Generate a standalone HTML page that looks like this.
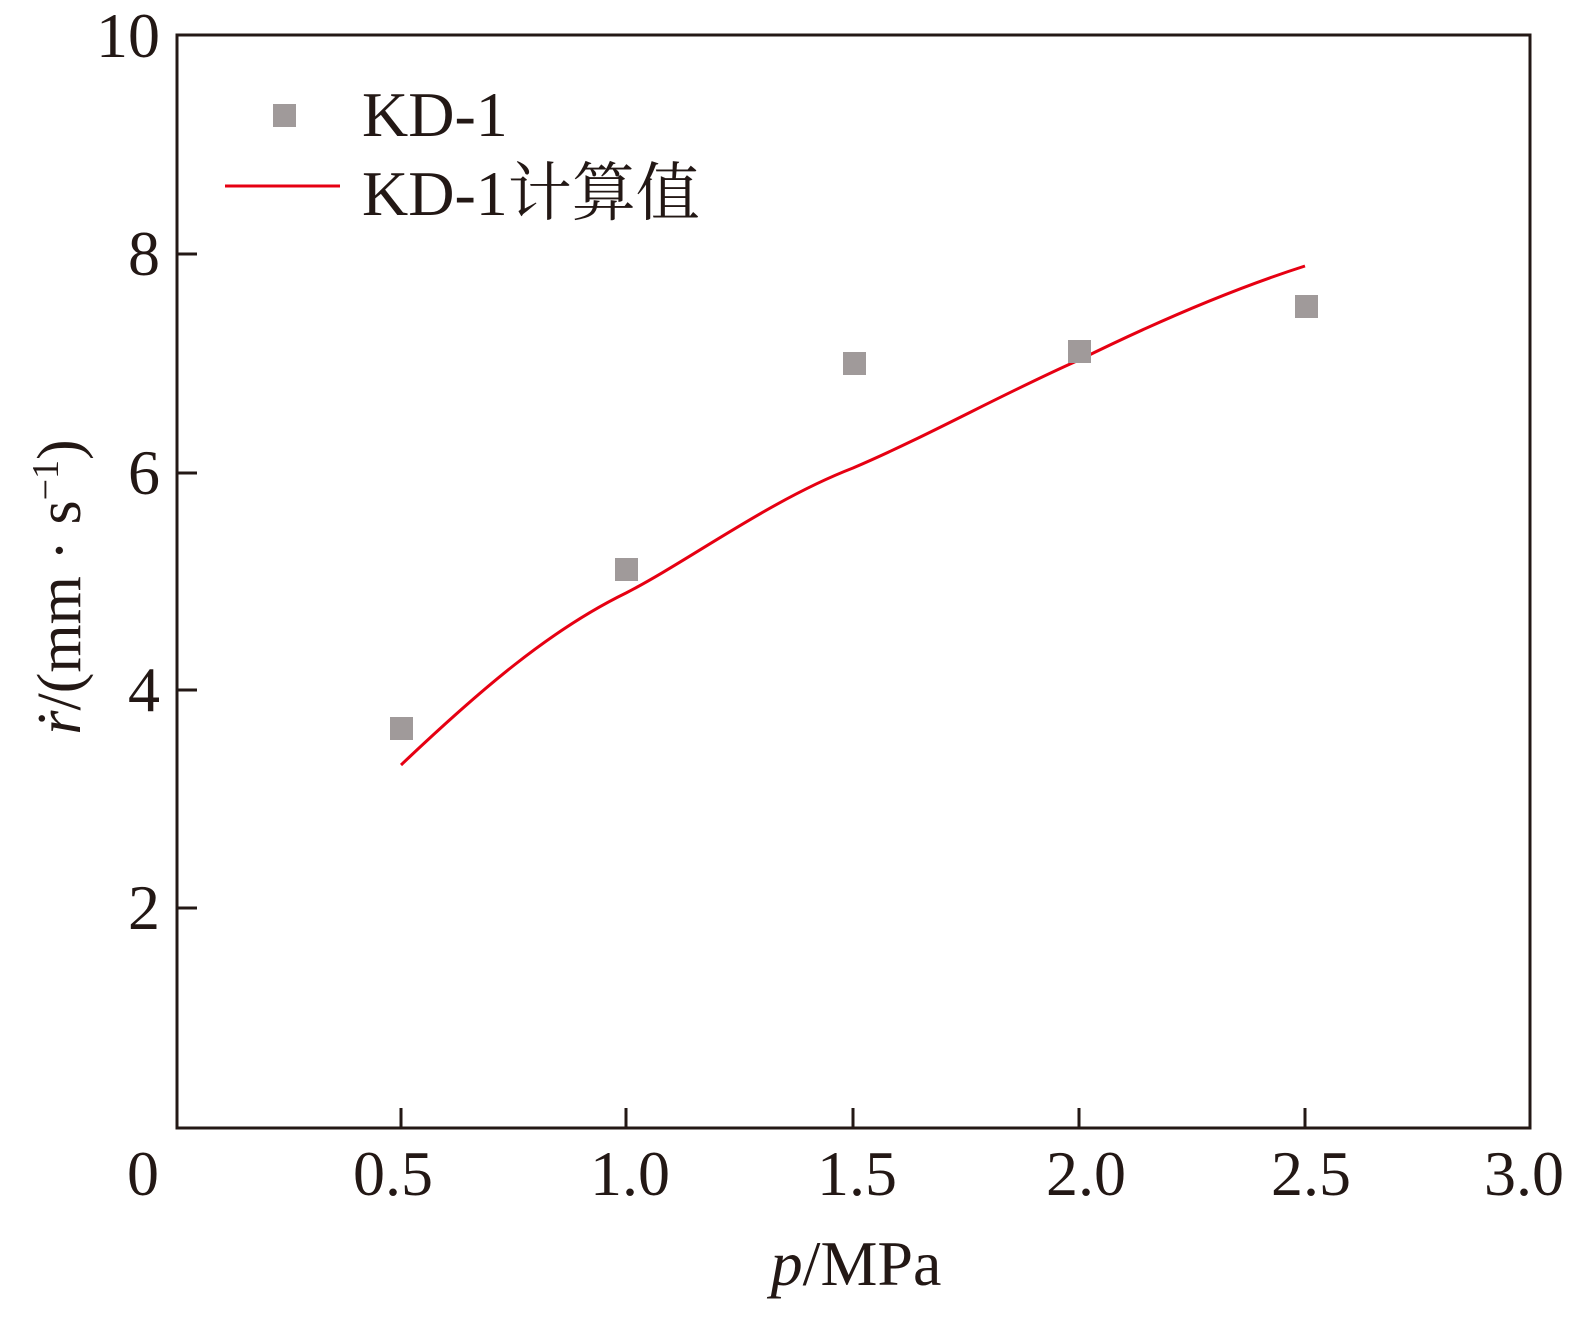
<!DOCTYPE html>
<html><head><meta charset="utf-8"><style>
body{margin:0;background:#fff;}
svg text{font-family:"Liberation Serif","Noto Serif CJK SC",serif;fill:#231815;}
</style></head><body>
<svg width="1581" height="1318" viewBox="0 0 1581 1318" xmlns="http://www.w3.org/2000/svg">
<rect x="177" y="35" width="1353" height="1093" fill="none" stroke="#231815" stroke-width="3"/>
<g stroke="#231815" stroke-width="3">
<line x1="401" y1="1128" x2="401" y2="1108"/>
<line x1="626" y1="1128" x2="626" y2="1108"/>
<line x1="853" y1="1128" x2="853" y2="1108"/>
<line x1="1079" y1="1128" x2="1079" y2="1108"/>
<line x1="1305" y1="1128" x2="1305" y2="1108"/>
<line x1="177" y1="908" x2="197" y2="908"/>
<line x1="177" y1="690" x2="197" y2="690"/>
<line x1="177" y1="473" x2="197" y2="473"/>
<line x1="177" y1="254" x2="197" y2="254"/>
</g>
<g font-size="64" text-anchor="middle">
<text x="143" y="1195">0</text>
<text x="393" y="1195">0.5</text>
<text x="630" y="1195">1.0</text>
<text x="857" y="1195">1.5</text>
<text x="1086" y="1195">2.0</text>
<text x="1311" y="1195">2.5</text>
<text x="1524" y="1195">3.0</text>
</g>
<g font-size="64" text-anchor="end">
<text x="160" y="929">2</text>
<text x="160" y="711">4</text>
<text x="160" y="494">6</text>
<text x="160" y="275">8</text>
<text x="160" y="57">10</text>
</g>
<text x="856" y="1285" font-size="64" text-anchor="middle"><tspan font-style="italic">p</tspan>/MPa</text>
<text transform="translate(80,587) rotate(-90)" font-size="62" text-anchor="middle"><tspan font-style="italic">ṙ</tspan>/(mm · s<tspan font-size="38" dy="-22">−1</tspan><tspan dy="22">)</tspan></text>
<path d="M401,765 C480,690 550,630 626,593 C690,560 770,500 853,468 C930,435 1000,395 1079,360 C1150,325 1230,290 1305,266" fill="none" stroke="#e60012" stroke-width="3"/>
<g fill="#a09a9a">
<rect x="390" y="717" width="23" height="23"/>
<rect x="615" y="558" width="23" height="23"/>
<rect x="843" y="352" width="23" height="23"/>
<rect x="1068" y="340" width="23" height="23"/>
<rect x="1295" y="295" width="23" height="23"/>
<rect x="273" y="104" width="23" height="23"/>
</g>
<line x1="225" y1="186" x2="340" y2="186" stroke="#e60012" stroke-width="3"/>
<text x="362" y="136" font-size="64">KD-1</text>
<text x="362" y="215" font-size="64">KD-1计算值</text>
</svg>
</body></html>
